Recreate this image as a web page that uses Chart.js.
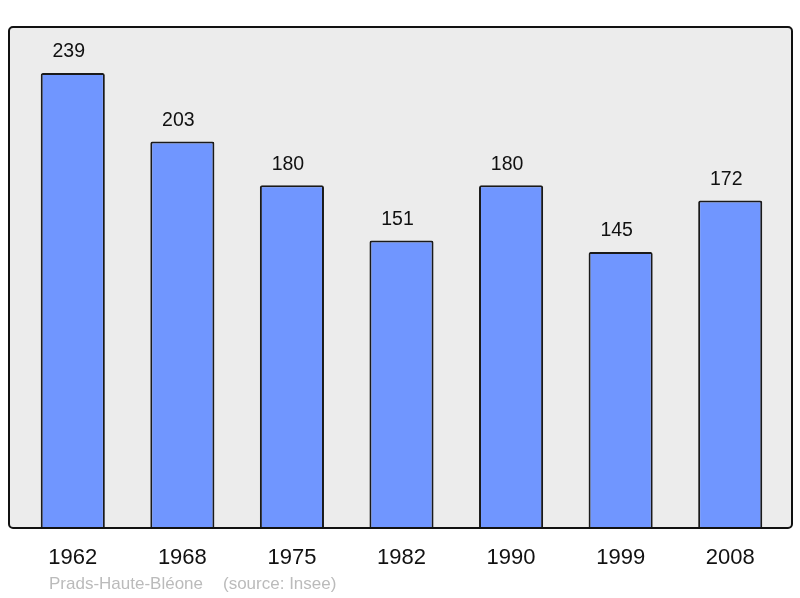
<!DOCTYPE html>
<html><head><meta charset="utf-8">
<script src="https://cdn.jsdelivr.net/npm/chart.js@4"></script>
<style>html,body{margin:0;padding:0;background:#fff}#wrap{width:800px;height:598px}</style>
</head><body><div id="wrap"><canvas id="c" width="800" height="598"></canvas></div>
<script>
const years = ["1962","1968","1975","1982","1990","1999","2008"];
const population = [239,203,180,151,180,145,172];
const footerName = "Prads-Haute-Bléone";
const footerSource = "(source: Insee)";

const FONT = "'Liberation Sans', Arial, sans-serif";

const decor = {
  id: 'decor',
  beforeDraw(chart) {
    const ctx = chart.ctx;
    const L = 9, T = 27, R = 792, B = 528, r = 4;
    ctx.save();
    ctx.beginPath();
    ctx.roundRect(L, T, R - L, B - T, r);
    ctx.fillStyle = '#ececec';
    ctx.fill();
    ctx.restore();
  },
  afterDatasetsDraw(chart) {
    const ctx = chart.ctx;
    const L = 9, T = 27, R = 792, B = 528, r = 4;
    ctx.save();
    ctx.beginPath();
    ctx.roundRect(L, T, R - L, B - T, r);
    ctx.lineWidth = 2;
    ctx.strokeStyle = '#111';
    ctx.stroke();
    const meta = chart.getDatasetMeta(0);
    ctx.font = '19.5px ' + FONT;
    ctx.fillStyle = '#111';
    ctx.textAlign = 'center';
    ctx.textBaseline = 'middle';
    meta.data.forEach((bar, i) => {
      ctx.fillText(String(population[i]), bar.x - 4, bar.y - 21);
    });
    ctx.font = '17px ' + FONT;
    ctx.fillStyle = '#bbbbbb';
    ctx.textAlign = 'left';
    ctx.fillText(footerName, 49, 584);
    ctx.fillText(footerSource, 223, 584);
    ctx.restore();
  }
};

new Chart(document.getElementById('c'), {
  type: 'bar',
  data: {
    labels: years,
    datasets: [{
      data: population,
      backgroundColor: '#7096ff',
      borderColor: '#1a1a1a',
      borderWidth: 2,
      borderSkipped: 'bottom',
      borderRadius: 2,
      barPercentage: 0.585,
      categoryPercentage: 1
    }]
  },
  options: {
    responsive: false,
    animation: false,
    devicePixelRatio: 1,
    layout: { padding: { left: 18, right: 15, top: 27, bottom: 0 } },
    plugins: { legend: { display: false }, tooltip: { enabled: false } },
    scales: {
      x: {
        grid: { display: false, drawTicks: false },
        border: { display: false },
        ticks: { color: '#111', font: { size: 22, family: FONT }, padding: 17, maxRotation: 0 },
        afterFit(s) { s.height = 70; }
      },
      y: { display: false, min: 0, max: 263.2 }
    }
  },
  plugins: [decor]
});
</script></body></html>
